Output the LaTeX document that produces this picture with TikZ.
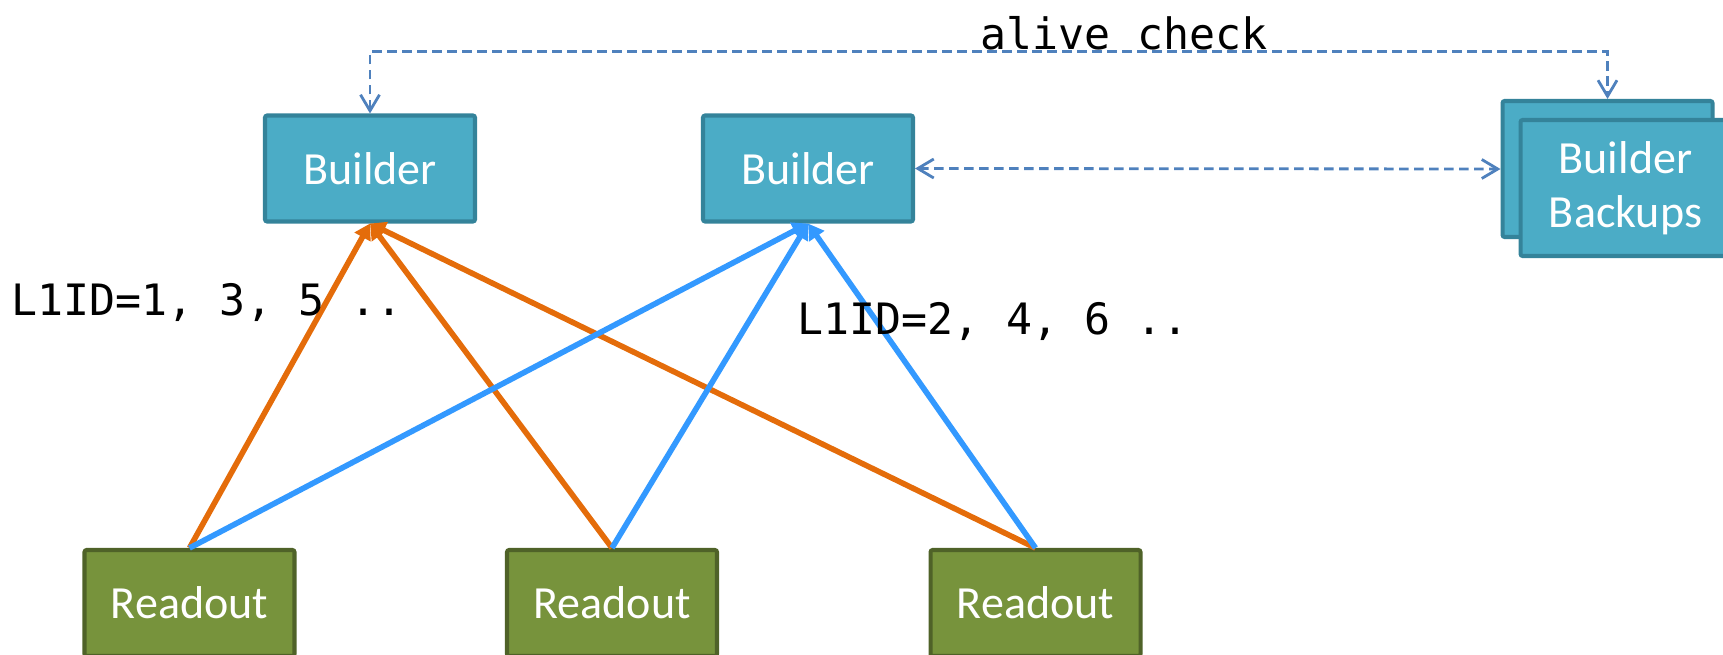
\documentclass[tikz,border=0pt]{standalone}
\usepackage{fontspec}
\setmainfont{Carlito}
\setmonofont{DejaVu Sans Mono}
\usetikzlibrary{arrows.meta,positioning}
\definecolor{builder}{HTML}{4BACC6}
\definecolor{builderline}{HTML}{34839A}
\definecolor{readout}{HTML}{77933C}
\definecolor{readoutline}{HTML}{4F6228}
\definecolor{orange}{HTML}{E46C0A}
\definecolor{blue}{HTML}{3399FF}
\definecolor{check}{HTML}{4F81BD}

\begin{document}
\begin{tikzpicture}[x=0.1mm,y=0.1mm,
  box/.style={draw,line width=1.15pt,rounded corners=0.6pt,text=white,align=center,
    font=\fontsize{13.1}{15.4}\selectfont,minimum width=21mm,minimum height=10.6mm},
  bld/.style={box,fill=builder,draw=builderline},
  rdo/.style={box,fill=readout,draw=readoutline},
  feed/.style={line width=1.6pt,-{Triangle[length=4.4pt,width=5pt]}},
  link/.style={check,line width=0.8pt,dash pattern=on 0.95mm off 0.55mm,
    {Straight Barb[length=1.6mm,width=1.9mm]}-{Straight Barb[length=1.6mm,width=1.9mm]}},
  ids/.style={font=\ttfamily\fontsize{12.3}{14}\selectfont}]
  \useasboundingbox (0,0) rectangle (1723,654);

  % builders and the stacked backups
  \node[bld] (b1) at (370,485.5) {Builder};
  \node[bld] (b2) at (808,485.5) {Builder};
  \node[bld,minimum height=13.6mm] (bk) at (1607.5,485) {};
  \node[bld,minimum height=13.6mm] (bkf) at (1625.5,466) {Builder\\Backups};

  % readouts
  \node[rdo] (r1) at (189.5,51) {Readout};
  \node[rdo] (r2) at (612,51) {Readout};
  \node[rdo] (r3) at (1035.5,51) {Readout};

  % event fragments
  \foreach \r in {r1,r2,r3}
    \draw[feed,orange] (\r.north) -- (b1.south);
  \foreach \r in {r1,r2,r3}
    \draw[feed,blue] (\r.north) -- (b2.south);

  \node[ids] (odd) at (207,352) {L1ID=1, 3, 5 ..};
  \node[ids] (even) at (993,333) {L1ID=2, 4, 6 ..};

  % alive check
  \draw[link] (b1.north) -- ++(0,62) -| (bk.north);
  \draw[link] (b2.east) -- (bk.west);
  \node[ids] (alive) at (1124,621) {alive check};
\end{tikzpicture}
\end{document}
